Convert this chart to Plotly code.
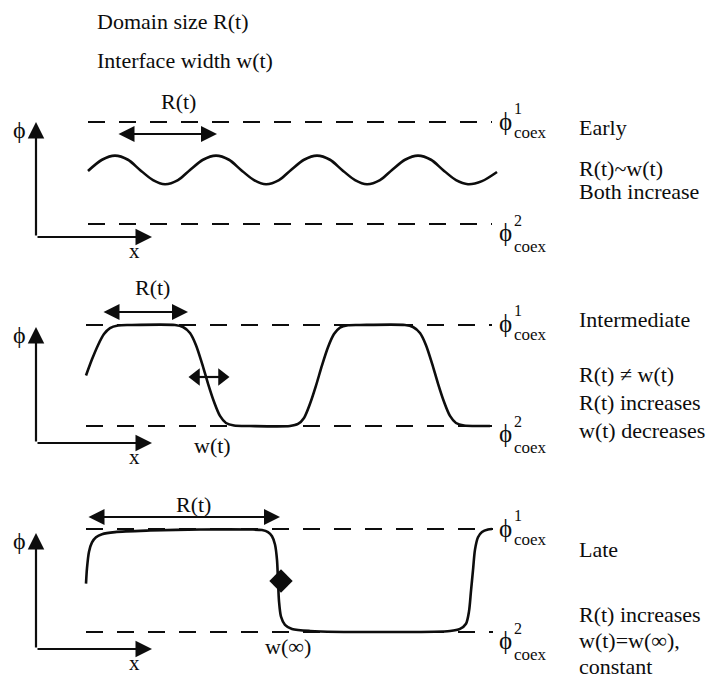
import plotly.graph_objects as go

W, H = 723, 680
FONT = "Liberation Serif, Times New Roman, serif"
INK = "#0d0d0d"
PHI = "\u03d5"

# ---------------- data (phi normalised: phi_coex^2 = 0, phi_coex^1 = 1) ----------------
header_lines = ["Domain size R(t)", "Interface width w(t)"]
stage_names = ["Early", "Intermediate", "Late"]
stage_notes = [
    ["R(t)~w(t)", "Both increase"],
    ["R(t) \u2260 w(t)", "R(t) increases", "w(t) decreases"],
    ["R(t) increases", "w(t)=w(\u221e),", "constant"],
]
coex_levels = [1.0, 0.0]
coex_tags = ["1", "2"]

early_x = [88, 102, 115, 128, 140, 153, 165, 178, 190, 203, 216, 229, 241, 254, 266, 279,
           291, 304, 317, 330, 342, 355, 367, 380, 392, 405, 418, 431, 443, 456, 468, 482, 497]
early_phi = [0.52, 0.63, 0.67, 0.63, 0.53, 0.43, 0.39, 0.43, 0.53, 0.63, 0.67, 0.63, 0.53, 0.43,
             0.39, 0.43, 0.53, 0.63, 0.67, 0.63, 0.53, 0.43, 0.39, 0.43, 0.53, 0.63, 0.67, 0.63,
             0.53, 0.43, 0.39, 0.42, 0.51]

inter_x = [86, 92, 98, 104, 110, 118, 130, 175, 183, 190, 196, 202, 208, 214, 220, 226, 234,
           250, 290, 298, 304, 310, 316, 322, 328, 334, 340, 348, 360, 405, 413, 420, 426, 432,
           438, 444, 450, 456, 464, 480, 490]
inter_phi = [0.50, 0.66, 0.80, 0.91, 0.97, 0.995, 1.0, 1.0, 0.98, 0.92, 0.80, 0.62, 0.42, 0.24,
             0.10, 0.03, 0.005, 0.0, 0.0, 0.02, 0.08, 0.22, 0.40, 0.60, 0.78, 0.91, 0.975, 0.997,
             1.0, 1.0, 0.98, 0.92, 0.80, 0.62, 0.42, 0.24, 0.10, 0.03, 0.005, 0.0, 0.0]

late_x = [86, 87, 89, 92, 96, 102, 115, 150, 200, 250, 262, 268, 272, 275, 277, 278, 279, 281,
          285, 292, 310, 400, 450, 460, 466, 469, 471, 473, 475, 478, 482, 488, 492]
late_phi = [0.47, 0.62, 0.78, 0.87, 0.92, 0.95, 0.97, 0.985, 0.995, 0.995, 0.99, 0.97, 0.93,
            0.85, 0.70, 0.50, 0.30, 0.15, 0.07, 0.03, 0.01, 0.0, 0.01, 0.03, 0.08, 0.20, 0.40,
            0.60, 0.80, 0.92, 0.97, 0.995, 1.0]

profiles_x = [early_x, inter_x, late_x]
profiles_phi = [early_phi, inter_phi, late_phi]
domain_size_span = [(117, 217), (102, 188), (87, 280)]   # extent of R(t) along x
interface_center = [None, 209, 281]                      # where w(t) is marked

# ---------------- layout geometry (pixels) ----------------
COEX_PX = [(122, 224), (325, 426), (529, 632)]
PANEL_PX = [(78, 262), (268, 474), (478, 680)]
AXIS_CORNER = [(36, 237), (36, 443), (36, 649)]
AXIS_TIP_Y = [122, 327, 533]
AXIS_TIP_X = 152
DASH_X = [(88, 492), (86, 492), (86, 493)]


def phi_of(i, py):
    top, bot = COEX_PX[i]
    return (bot - py) / (bot - top)


def refs(i):
    s = "" if i == 0 else str(i + 1)
    return "x" + s, "y" + s


fig = go.Figure()
annotations = []

for i in range(3):
    xr, yr = refs(i)
    for lvl in coex_levels:
        fig.add_trace(go.Scatter(x=list(DASH_X[i]), y=[lvl, lvl], mode="lines", xaxis=xr, yaxis=yr,
                                 line=dict(color=INK, width=2.2, dash="17px,14px"),
                                 hoverinfo="skip", showlegend=False))
    fig.add_trace(go.Scatter(x=profiles_x[i], y=profiles_phi[i], mode="lines", xaxis=xr, yaxis=yr,
                             line=dict(color=INK, width=2.6, shape="spline", smoothing=0.8),
                             hoverinfo="skip", showlegend=False))

    def pt(px, py, text, size, xanchor="center", yanchor="middle"):
        annotations.append(dict(xref=xr, yref=yr, x=px, y=phi_of(i, py), text=text, showarrow=False,
                                xanchor=xanchor, yanchor=yanchor,
                                font=dict(family=FONT, size=size, color=INK)))

    def arrow(x0, py0, x1, py1, both=False, width=2, size=1.3):
        annotations.append(dict(xref=xr, yref=yr, axref=xr, ayref=yr,
                                x=x1, y=phi_of(i, py1), ax=x0, ay=phi_of(i, py0), text="",
                                showarrow=True, arrowhead=2, arrowsize=size, arrowwidth=width,
                                startarrowhead=2, startarrowsize=size,
                                arrowside="end+start" if both else "end", arrowcolor=INK,
                                standoff=0, startstandoff=0))

    cx, cy = AXIS_CORNER[i]
    arrow(cx, cy, cx, AXIS_TIP_Y[i], width=2.2, size=1.5)
    arrow(cx, cy, AXIS_TIP_X, cy, width=2.2, size=1.5)
    pt(19, AXIS_TIP_Y[i] + 8, PHI, 24)
    pt(134, cy + 14, "x", 21)

    top, bot = COEX_PX[i]
    pt(497, top - 1, PHI, 25, xanchor="left")
    pt(512, top - 14, "1", 16, xanchor="left")
    pt(512, top + 10, "coex", 17, xanchor="left")
    pt(497, bot + 8, PHI, 25, xanchor="left")
    pt(512, bot - 4, "2", 16, xanchor="left")
    pt(512, bot + 22, "coex", 17, xanchor="left")

    x0, x1 = domain_size_span[i]
    ry = [134, 312, 517][i]
    arrow(x0, ry, x1, ry, both=True, width=2, size=1.6)
    pt([178, 152, 193][i], [101, 288, 505][i], "R(t)", 22)

stage_rows = [[127, 168, 191], [320, 375, 403, 431], [549, 614, 640, 666]]
for i in range(3):
    xr, yr = refs(i)
    texts = [stage_names[i]] + stage_notes[i]
    for t, py in zip(texts, stage_rows[i]):
        annotations.append(dict(xref=xr, yref=yr, x=577, y=phi_of(i, py), text=t, showarrow=False,
                                xanchor="left", yanchor="middle",
                                font=dict(family=FONT, size=22, color=INK)))

xr, yr = refs(1)
c = interface_center[1]
wy = phi_of(1, 377)
fig.add_trace(go.Scatter(x=[c - 13, c + 13], y=[wy, wy], mode="lines", xaxis=xr, yaxis=yr,
                         line=dict(color=INK, width=2.2), hoverinfo="skip", showlegend=False))
fig.add_trace(go.Scatter(x=[c - 13, c + 13], y=[wy, wy], mode="markers", xaxis=xr, yaxis=yr,
                         marker=dict(symbol=["triangle-left", "triangle-right"], size=15, color=INK),
                         hoverinfo="skip", showlegend=False))
annotations.append(dict(xref=xr, yref=yr, x=212, y=phi_of(1, 446), text="w(t)", showarrow=False,
                        font=dict(family=FONT, size=22, color=INK)))

xr, yr = refs(2)
fig.add_trace(go.Scatter(x=[interface_center[2]], y=[phi_of(2, 581)], mode="markers", xaxis=xr, yaxis=yr,
                         marker=dict(symbol="diamond", size=18, color=INK),
                         hoverinfo="skip", showlegend=False))
annotations.append(dict(xref=xr, yref=yr, x=288, y=phi_of(2, 646), text="w(\u221e)", showarrow=False,
                        font=dict(family=FONT, size=22, color=INK)))

for t, py in zip(header_lines, [22, 60]):
    annotations.append(dict(xref="paper", yref="paper", x=95 / W, y=1 - py / H, text=t, showarrow=False,
                            xanchor="left", yanchor="middle", font=dict(family=FONT, size=22, color=INK)))

layout = dict(width=W, height=H, margin=dict(l=0, r=0, t=0, b=0),
              paper_bgcolor="white", plot_bgcolor="rgba(0,0,0,0)", annotations=annotations,
              showlegend=False)
for i in range(3):
    s = "" if i == 0 else str(i + 1)
    p0, p1 = PANEL_PX[i]
    layout["xaxis" + s] = dict(range=[0, W], domain=[0, 1], visible=False, anchor="y" + s, fixedrange=True)
    layout["yaxis" + s] = dict(range=[phi_of(i, p1), phi_of(i, p0)], domain=[1 - p1 / H, 1 - p0 / H],
                               visible=False, anchor="x" + s, fixedrange=True)
fig.update_layout(**layout)
fig.write_html("out.html", config={"displayModeBar": False},
               post_script="document.body.style.margin='0px';document.body.style.overflow='hidden';")
